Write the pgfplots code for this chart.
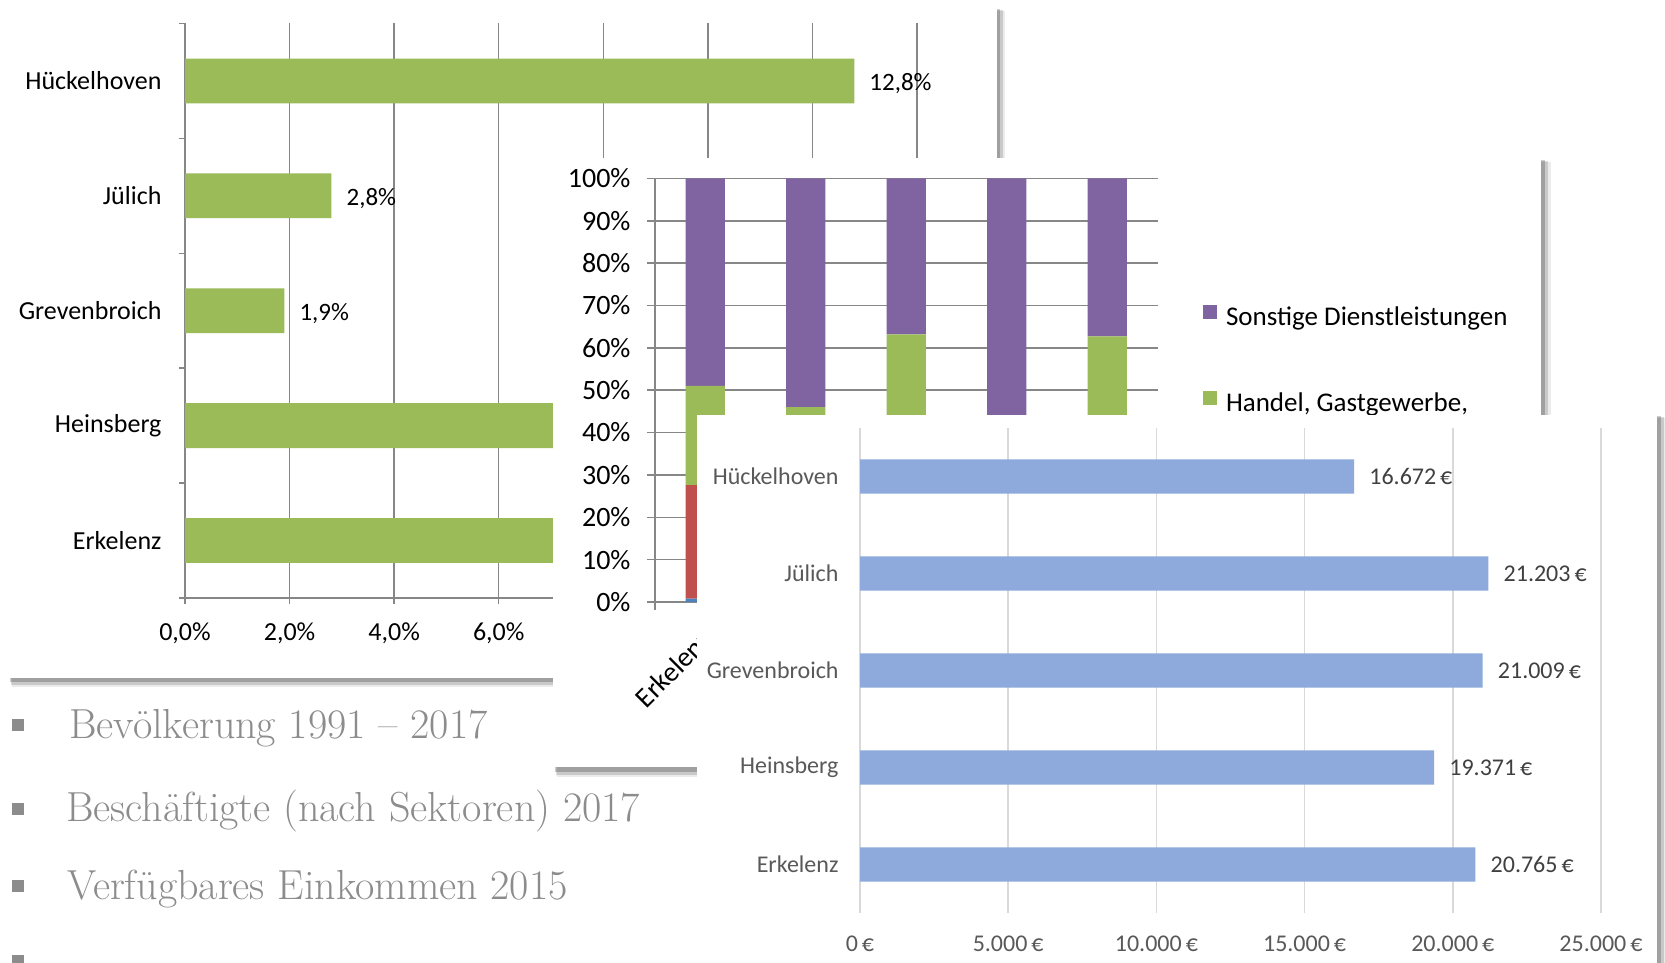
\documentclass[border=0pt]{standalone}
\usepackage{fontspec}
\usepackage{pgfplots}
\pgfplotsset{compat=1.18}
\newfontfamily\carlito{Carlito}
\definecolor{cgreen}{HTML}{9BBB59}
\definecolor{cpurple}{HTML}{8064A2}
\definecolor{cred}{HTML}{C0504D}
\definecolor{cblue}{HTML}{4F81BD}
\definecolor{lblue}{HTML}{8EA9DB}
\definecolor{gridA}{HTML}{878787}
\definecolor{gridC}{HTML}{D9D9D9}
\definecolor{txtC}{HTML}{595959}
\definecolor{lblC}{HTML}{404040}
\definecolor{bulletC}{HTML}{8C8C8C}
\newcommand{\fs}[1]{\fontsize{#1pt}{#1pt}\selectfont}

\begin{document}
\begin{tikzpicture}
\fill[white] (0pt,0pt) rectangle (1665pt,963pt);
\useasboundingbox (0pt,0pt) rectangle (1665pt,963pt);

% ---------- panel 1 ----------
\fill[black,opacity=0.08] (12pt,276pt) rectangle (1005pt,952pt);
\fill[black,opacity=0.14] (11pt,278pt) rectangle (1003pt,953pt);
\fill[black,opacity=0.20] (10pt,281pt) rectangle (1000pt,954pt);
\fill[white] (8pt,285pt) rectangle (997pt,956pt);

\begin{axis}[
  at={(185pt,365pt)}, anchor=south west, scale only axis,
  width=732pt, height=574.5pt,
  xbar, bar width=0.39,
  xmin=0, xmax=14, ymin=-0.5, ymax=4.5,
  axis x line*=bottom, axis y line*=left,
  axis line style={-, draw=gridA, line width=1.5pt},
  xtick={0,2,...,14}, xmajorgrids,
  major grid style={draw=gridA, line width=1.5pt},
  ytick={0,...,4},
  yticklabels={Erkelenz,Heinsberg,Grevenbroich,Jülich,Hückelhoven},
  minor ytick={-0.5,0.5,1.5,2.5,3.5,4.5},
  tick align=outside, major tick length=6pt, minor tick length=6pt,
  major y tick style={draw=none},
  minor y tick style={draw=gridA, line width=1.5pt},
  major x tick style={draw=gridA, line width=1.5pt},
  /pgf/number format/assume math mode=true,
  xticklabel={\pgfmathprintnumber[fixed,fixed zerofill,precision=1,use comma]{\tick}\%},
  tick label style={font=\carlito\fs{26}, text=black},
  xticklabel style={yshift=-15pt},
  yticklabel style={xshift=-14pt},
  point meta=x,
  nodes near coords={\pgfmathprintnumber[fixed,fixed zerofill,precision=1,use comma]{\pgfplotspointmeta}\%},
  nodes near coords style={font=\carlito\fs{25}, text=black, anchor=west, inner sep=0pt, xshift=15pt, yshift=-3pt},
]
\addplot[fill=cgreen, draw=none] coordinates {(9.1,0) (8.6,1) (1.9,2) (2.8,3) (12.8,4)};
\end{axis}

% ---------- panel 2 ----------
\fill[black,opacity=0.08] (557pt,186pt) rectangle (1551pt,801pt);
\fill[black,opacity=0.14] (556pt,188pt) rectangle (1548pt,802pt);
\fill[black,opacity=0.20] (555pt,191pt) rectangle (1545pt,803pt);
\fill[white] (553pt,196pt) rectangle (1541pt,805pt);

\begin{axis}[
  at={(655pt,361pt)}, anchor=south west, scale only axis,
  width=502.5pt, height=423.6pt,
  ybar stacked, bar width=0.39,
  xmin=-0.5, xmax=4.5, ymin=0, ymax=100,
  axis x line*=bottom, axis y line*=left,
  axis line style={-, draw=gridA, line width=1.5pt},
  ytick={0,10,...,100}, ymajorgrids,
  major grid style={draw=gridA, line width=1.5pt},
  xtick={0,...,4},
  xticklabels={Erkelenz,Heinsberg,Grevenbroich,Jülich,Hückelhoven},
  minor xtick={-0.5,0.5,1.5,2.5,3.5,4.5},
  tick align=outside, major tick length=8pt, minor tick length=8pt,
  major x tick style={draw=none},
  minor x tick style={draw=gridA, line width=1.5pt},
  major y tick style={draw=gridA, line width=1.5pt},
  /pgf/number format/assume math mode=true,
  yticklabel={\pgfmathprintnumber{\tick}\%},
  tick label style={font=\carlito\fs{28}, text=black},
  yticklabel style={xshift=-13pt},
  xticklabel style={rotate=45, anchor=east, xshift=-13pt, yshift=-19pt},
  reverse legend,
  legend cell align=left,
  legend style={at={(1.0906,0.702)}, anchor=north west, draw=none, fill=none,
    font=\carlito\fs{27}, row sep=58pt, column sep=9pt, inner sep=0pt, outer sep=0pt,
    nodes={inner sep=0pt, text height=19pt, text depth=7pt}},
  legend image code/.code={\fill[#1] (0pt,1pt) rectangle (14pt,15pt);},
]
\addplot[fill=cblue, draw=none] coordinates {(0,0.8) (1,1.2) (2,0.6) (3,0.7) (4,0.9)};
\addlegendentry{Land- und Forstwirtschaft}
\addplot[fill=cred, draw=none] coordinates {(0,26.8) (1,22.0) (2,38.0) (3,21.5) (4,36.0)};
\addlegendentry{Produzierendes Gewerbe}
\addplot[fill=cgreen, draw=none] coordinates {(0,23.4) (1,22.8) (2,24.6) (3,19.0) (4,25.8)};
\addlegendentry{Handel, Gastgewerbe,}
\addplot[fill=cpurple, draw=none] coordinates {(0,49.0) (1,54.0) (2,36.8) (3,58.8) (4,37.3)};
\addlegendentry{Sonstige Dienstleistungen}
\end{axis}

% ---------- panel 3 ----------
\fill[black,opacity=0.08] (701pt,-10pt) rectangle (1667pt,545pt);
\fill[black,opacity=0.14] (700pt,-10pt) rectangle (1664pt,546pt);
\fill[black,opacity=0.20] (699pt,-10pt) rectangle (1661pt,547pt);
\fill[white] (697pt,-10pt) rectangle (1657pt,548pt);

\begin{axis}[
  at={(860pt,50pt)}, anchor=south west, scale only axis,
  width=741pt, height=485pt,
  xbar, bar width=0.355,
  xmin=0, xmax=25000, ymin=-0.5, ymax=4.5,
  axis line style={draw=none},
  xtick={0,5000,...,25000}, xmajorgrids,
  major grid style={draw=gridC, line width=1.5pt},
  xticklabels={0\,€,5.000\,€,10.000\,€,15.000\,€,20.000\,€,25.000\,€},
  ytick={0,...,4},
  yticklabels={Erkelenz,Heinsberg,Grevenbroich,Jülich,Hückelhoven},
  major tick length=0pt, minor tick length=0pt,
  tick style={draw=none},
  /pgf/number format/assume math mode=true,
  tick label style={font=\carlito\fs{24}, text=txtC},
  xticklabel style={yshift=-19pt},
  yticklabel style={xshift=-18pt},
  point meta=x,
  nodes near coords={\pgfmathprintnumber[fixed,precision=0,1000 sep={.}]{\pgfplotspointmeta}\,€},
  nodes near coords style={font=\carlito\fs{24}, text=lblC, anchor=west, inner sep=0pt, xshift=15pt},
]
\addplot[fill=lblue, draw=none] coordinates {(20765,0) (19371,1) (21009,2) (21203,3) (16672,4)};
\end{axis}

% ---------- bullets ----------
\fill[bulletC] (12pt,232pt) rectangle (24pt,244pt);
\fill[bulletC] (12pt,148pt) rectangle (24pt,160pt);
\fill[bulletC] (12pt,71pt) rectangle (24pt,83pt);
\fill[bulletC] (12pt,-4pt) rectangle (24pt,8pt);
\node[anchor=base west, inner sep=0pt, text=bulletC, font=\fs{42}] at (69pt,224pt) {Bevölkerung 1991 – 2017};
\node[anchor=base west, inner sep=0pt, text=bulletC, font=\fs{42}] at (66pt,141pt) {Beschäftigte (nach Sektoren) 2017};
\node[anchor=base west, inner sep=0pt, text=bulletC, font=\fs{42}] at (67pt,63pt) {Verfügbares Einkommen 2015};
\end{tikzpicture}
\end{document}
